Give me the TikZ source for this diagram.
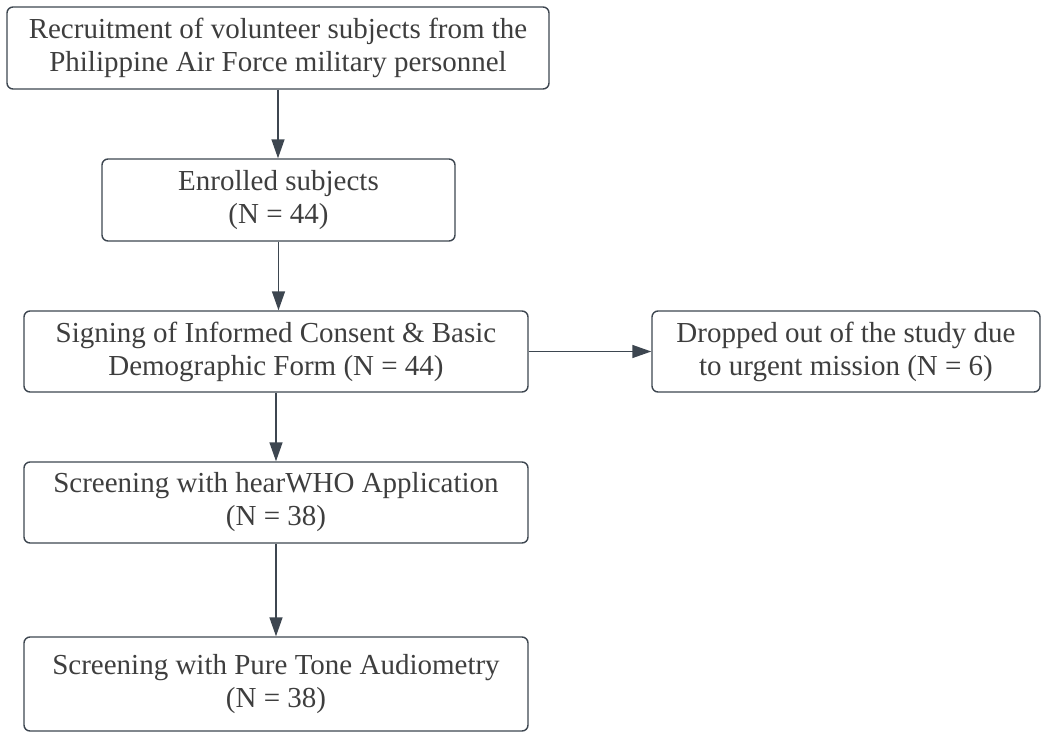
\documentclass[tikz,border=0pt]{standalone}
\usepackage{fontspec}
\setmainfont{Liberation Serif}
\usetikzlibrary{arrows.meta}
\definecolor{linie}{HTML}{3D4650}
\definecolor{schrift}{HTML}{3E3E3E}
\begin{document}
\begin{tikzpicture}[x=0.5pt, y=-0.5pt,
    kasten/.style={draw=linie, line width=0.7pt, rounded corners=3pt, align=center, inner sep=0pt,
                   text=schrift, font=\fontsize{14.5}{16.5}\selectfont},
    pfeil/.style={draw=linie, line width=0.7pt, -{Triangle[length=9.5pt,width=6.5pt]}}]
    \useasboundingbox (0,0) rectangle (1048,733);                                                   % Rahmen
    \node[kasten, minimum width=271pt,   minimum height=41pt]   (rekrut)  at (278,48)    {Recruitment of volunteer subjects from the\\Philippine Air Force military personnel}; % Rekrutierung
    \node[kasten, minimum width=176.5pt, minimum height=41pt]   (enroll)  at (278.5,200) {Enrolled subjects\\(N = 44)};                                           % Aufnahme
    \node[kasten, minimum width=252pt,   minimum height=40.5pt] (consent) at (276,351.5) {Signing of Informed Consent \& Basic\\Demographic Form (N = 44)};   % Einwilligung
    \node[kasten, minimum width=194pt,   minimum height=40.5pt] (dropout) at (846,351.5) {Dropped out of the study due\\to urgent mission (N = 6)};       % Ausfall
    \node[kasten, minimum width=252pt,   minimum height=40.5pt] (hearwho) at (276,502.5) {Screening with hearWHO Application\\(N = 38)};                       % hearWHO
    \node[kasten, minimum width=252pt,   minimum height=47pt]   (pta)     at (276,684)   {Screening with Pure Tone Audiometry\\(N = 38)};                      % Audiometrie
    \draw[pfeil] (rekrut.south)  -- (rekrut.south |- enroll.north);   % Pfeil 1
    \draw[pfeil] (enroll.south)  -- (enroll.south |- consent.north);  % Pfeil 2
    \draw[pfeil] (consent.east)  -- (dropout.west);                   % Pfeil Ausfall
    \draw[pfeil] (consent.south) -- (consent.south |- hearwho.north); % Pfeil 3
    \draw[pfeil] (hearwho.south) -- (hearwho.south |- pta.north);     % Pfeil 4
\end{tikzpicture}
\end{document}
